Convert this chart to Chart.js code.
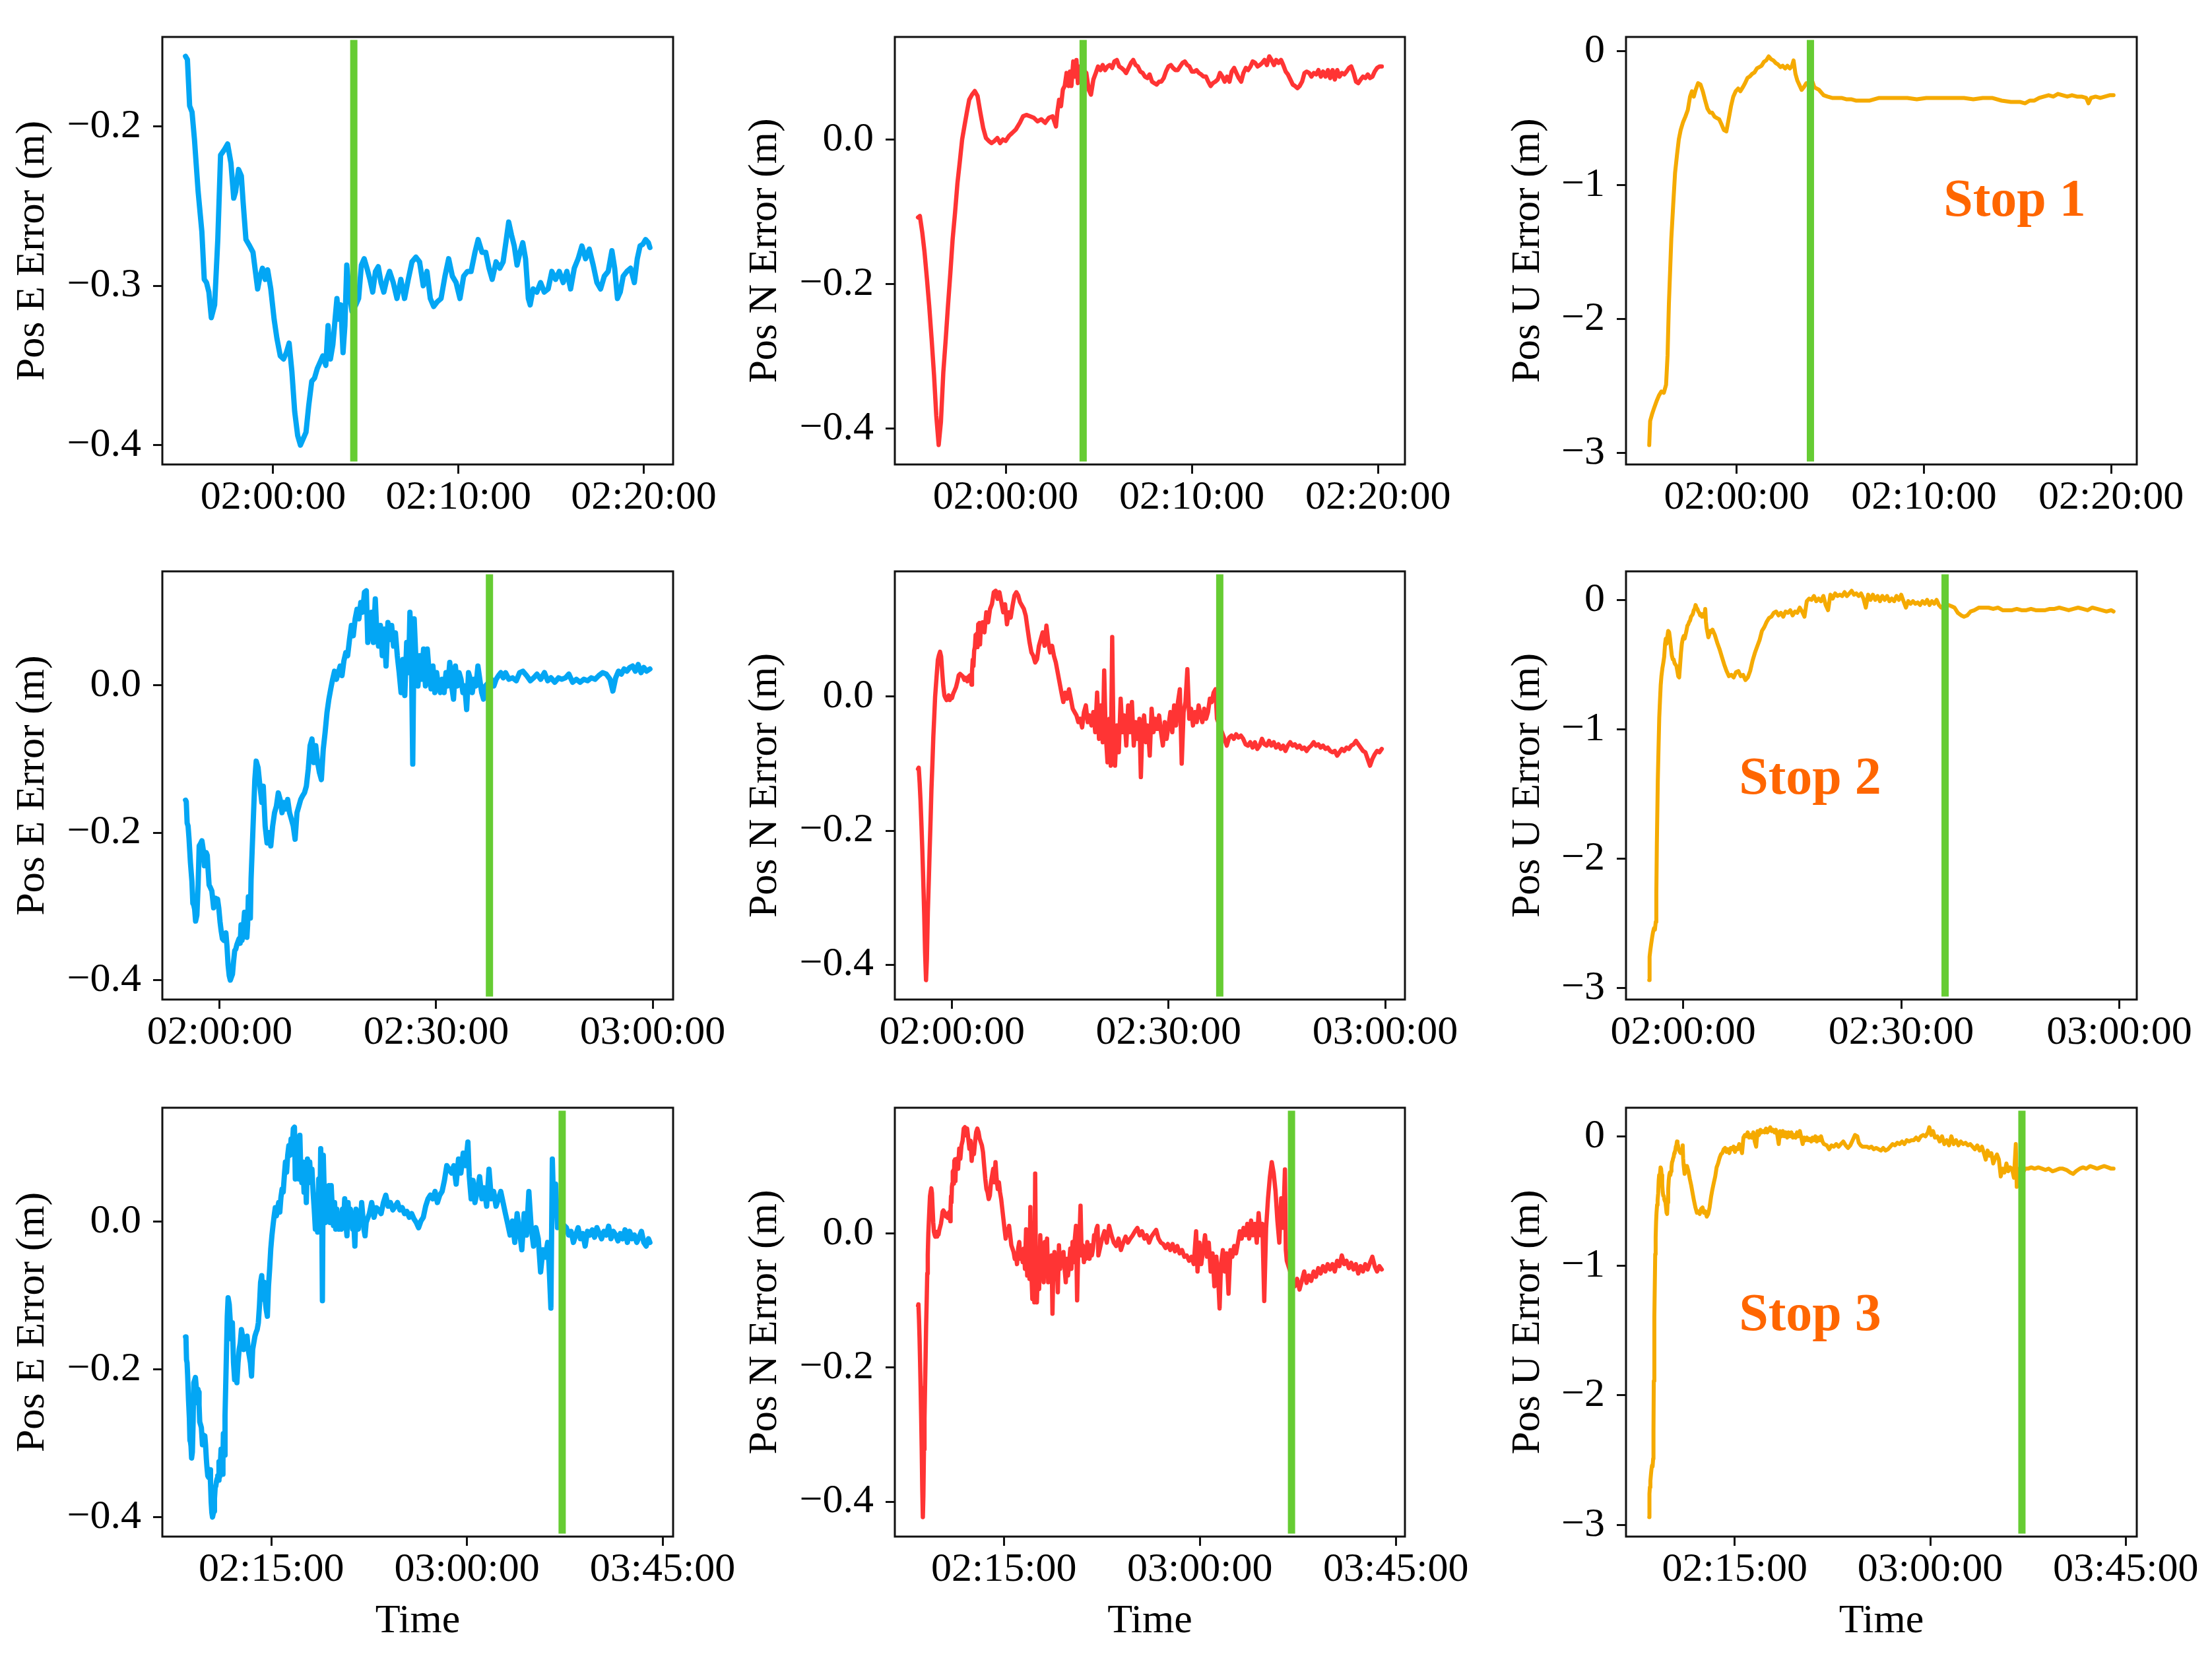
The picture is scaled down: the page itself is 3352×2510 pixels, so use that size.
<!DOCTYPE html>
<html>
<head>
<meta charset="utf-8">
<title>Position error with stops</title>
<script src="https://cdn.jsdelivr.net/npm/chart.js@4.4.1/dist/chart.umd.min.js"></script>
<style>
  html, body { margin: 0; padding: 0; background: #ffffff; }
  #page { position: relative; width: 3352px; height: 2510px; overflow: hidden; background: #ffffff; }
  #page canvas { position: absolute; }
  .stop-label {
    position: absolute;
    transform: translate(-50%, -50%);
    font-family: "Liberation Serif", "Times New Roman", serif;
    font-weight: bold;
    font-size: 80px;
    line-height: 1;
    color: #ff6600;
    white-space: nowrap;
  }
</style>
</head>
<body>
<div id="page"></div>
<script>
// time is in minutes after 00:00 (120 = 02:00:00), values in metres

// --- East error: common run before the stops, then the part after each stop ---
const eBase = [
  [115.27,-0.156],[115.37,-0.158],[115.49,-0.187],[115.62,-0.191],[115.75,-0.208],[115.95,-0.241],[116.15,-0.266],
  [116.28,-0.296],[116.4,-0.298],[116.53,-0.304],[116.66,-0.32],[116.84,-0.312],[117.01,-0.271],[117.16,-0.218],
  [117.34,-0.215],[117.54,-0.211],[117.72,-0.223],[117.87,-0.245],[117.97,-0.241],[118.13,-0.227],[118.28,-0.231],
  [118.38,-0.248],[118.53,-0.271],[118.73,-0.275],[118.91,-0.279],[119.04,-0.291],[119.16,-0.302],[119.29,-0.294],
  [119.42,-0.289],[119.57,-0.296],[119.7,-0.29],[119.87,-0.302],[120.05,-0.321],[120.2,-0.333],[120.38,-0.344],
  [120.56,-0.346],[120.71,-0.342],[120.86,-0.336],[121.01,-0.354],[121.16,-0.379],[121.32,-0.394],[121.47,-0.4],
  [121.62,-0.396],[121.77,-0.392],[121.92,-0.375],[122.08,-0.36],[122.23,-0.358],[122.38,-0.352],[122.53,-0.348],
  [122.68,-0.344],[122.84,-0.35],[122.96,-0.325],[123.09,-0.346],[123.22,-0.337],[123.34,-0.321],[123.44,-0.308],
  [123.54,-0.321],[123.65,-0.312],[123.77,-0.342],[123.87,-0.325],[123.97,-0.287],[124.1,-0.304],[124.25,-0.316],
  [124.35,-0.263],[124.61,-0.195],[124.87,-0.128],[125.06,-0.103],[125.32,-0.112],[125.58,-0.137],[125.84,-0.159],
  [126.04,-0.137],[126.3,-0.191],[126.56,-0.214],[126.82,-0.2],[127.08,-0.218],[127.34,-0.191],[127.6,-0.173],
  [127.86,-0.164],[128.12,-0.146],[128.38,-0.155],[128.64,-0.173],[128.9,-0.159],[129.16,-0.168],[129.42,-0.155],
  [129.68,-0.173],[129.94,-0.182],[130.19,-0.191],[130.45,-0.209],[130.71,-0.173],[130.97,-0.164],[131.23,-0.155],
  [131.49,-0.15],[131.75,-0.146],[132.01,-0.137],[132.27,-0.114],[132.53,-0.082],[132.79,-0.073],[133.05,-0.105],
  [133.31,-0.082],[133.57,-0.105],[133.83,-0.119],[134.09,-0.128],[134.35,-0.087],[134.61,-0.064],[134.87,-0.037],
  [135.13,-0.019],[135.39,-0.005],[135.65,0.008],[135.91,0.019],[136.17,0.008],[136.43,0.017],[136.69,0.026],
  [136.95,0.013],[137.21,0.033],[137.47,0.044],[137.73,0.04],[137.99,0.062],[138.25,0.081],[138.51,0.067],
  [138.77,0.09],[139.03,0.103],[139.29,0.09],[139.55,0.112],[139.81,0.099],[140.06,0.126],[140.32,0.128],
  [140.52,0.058],[140.78,0.081],[141.04,0.099],[141.3,0.058],[141.56,0.117],[141.75,0.076],[142.01,0.053],
  [142.27,0.081],[142.53,0.04],[142.79,0.076],[143.05,0.026],[143.31,0.085],[143.57,0.062],[143.83,0.081],
  [144.09,0.053],[144.35,0.071],[144.61,0.04],[144.87,0.017],[145.13,-0.01],[145.39,0.035],[145.65,-0.014],
  [145.91,0.058],[146.17,0.017],[146.36,0.099],[146.56,0.044],[146.75,-0.107],[146.95,0.09],[147.21,0.031],
  [147.47,-0.001],[147.73,0.04],[147.99,0.008],[148.25,0.049],[148.51,-0.001],[148.77,0.049],[149.03,0.017],
  [149.29,-0.005],[149.55,0.026],[149.81,-0.01],[150.06,0.017],[150.32,-0.001],[150.58,-0.01],[150.84,0.008],
  [151.1,-0.01],[151.36,0.017],[151.62,-0.001],[151.88,0.031],[152.14,-0.001],[152.4,-0.019],[152.66,0.026],
  [152.92,-0.001],[153.18,0.017],[153.44,0.008],[153.7,-0.01],[153.96,-0.001],[154.22,-0.033],[154.48,0.017],
  [154.74,0.008],[155.0,-0.01],[155.26,0.008],[155.52,-0.001],[155.78,0.026],[156.04,0.008],[156.3,-0.01],
  [156.56,-0.019],[156.82,-0.001],[157.55,0.011],[158.09,0.026],[158.63,0.006],[159.17,0.019],[159.71,0.016],
  [160.25,0.011],[160.79,0.026],[161.33,0.036],[161.87,0.021],[162.41,0.026],[162.95,0.016],[163.49,0.021],
  [164.03,0.026],[164.57,0.016],[165.11,0.019],[165.65,0.011],[166.19,0.014],[166.73,0.006],[167.27,0.011],
  [167.8,0.004],[168.34,-0.001],[168.88,-0.008],[169.42,0.001],[169.96,0.006],[170.5,0.021],[171.04,0.031],
  [171.58,0.036],[172.12,0.031],[172.66,0.041],[173.2,0.026],[173.74,0.036],[174.28,0.041],[174.82,0.056],
  [175.36,0.076],[175.9,0.071],[176.44,0.066],[176.98,0.076],[177.52,0.051],[178.06,0.085],[178.6,0.066],
  [179.14,0.093],[179.68,0.076],[180.22,0.108],[180.54,0.061],[180.97,0.031],[181.4,0.056],[181.83,0.026],
  [182.37,0.041],[182.91,0.061],[183.45,0.031],[183.99,0.046],[184.53,0.021],[185.07,0.071],[185.61,0.031],
  [186.15,0.041],[186.69,0.021],[187.23,0.031],[187.77,0.041],[188.31,0.026],[188.85,0.011],[189.38,-0.003],
  [189.92,-0.018],[190.46,0.001],[191.0,-0.028],[191.54,0.011],[192.08,-0.013],[192.62,-0.038],[193.16,0.011],
  [193.7,-0.018],[194.24,0.041],[194.78,-0.008],[195.32,-0.033],[195.86,-0.008],[196.4,-0.023],[196.94,-0.068],
  [197.48,-0.038],[198.02,-0.048],[198.56,-0.028],[198.88,-0.058],[199.31,-0.117],[199.64,0.085],[199.96,0.016],
  [200.39,0.051],[200.83,-0.008],[201.26,0.001]
];
const eAfter1 = [
  [124.46,-0.312],[124.61,-0.308],[124.76,-0.287],[124.91,-0.283],[125.06,-0.289],[125.22,-0.296],[125.37,-0.304],
  [125.52,-0.291],[125.67,-0.288],[125.82,-0.298],[125.97,-0.304],[126.13,-0.296],[126.28,-0.291],[126.48,-0.298],
  [126.68,-0.308],[126.89,-0.296],[127.09,-0.308],[127.29,-0.296],[127.49,-0.285],[127.7,-0.282],[127.9,-0.285],
  [128.1,-0.3],[128.3,-0.291],[128.48,-0.308],[128.66,-0.313],[128.86,-0.31],[129.06,-0.308],[129.27,-0.294],
  [129.47,-0.283],[129.67,-0.294],[129.87,-0.298],[130.08,-0.308],[130.28,-0.294],[130.48,-0.291],[130.68,-0.291],
  [130.89,-0.279],[131.06,-0.271],[131.27,-0.279],[131.47,-0.279],[131.65,-0.289],[131.82,-0.296],[132.03,-0.285],
  [132.23,-0.289],[132.41,-0.285],[132.58,-0.271],[132.71,-0.26],[132.86,-0.268],[133.01,-0.275],[133.16,-0.287],
  [133.32,-0.279],[133.47,-0.273],[133.62,-0.283],[133.77,-0.308],[133.87,-0.312],[134.03,-0.302],[134.23,-0.304],
  [134.43,-0.298],[134.63,-0.304],[134.84,-0.302],[135.04,-0.291],[135.24,-0.296],[135.44,-0.291],[135.65,-0.298],
  [135.85,-0.291],[136.05,-0.302],[136.25,-0.289],[136.46,-0.283],[136.66,-0.275],[136.86,-0.283],[137.06,-0.277],
  [137.27,-0.287],[137.47,-0.298],[137.67,-0.302],[137.87,-0.294],[138.08,-0.291],[138.28,-0.278],[138.43,-0.289],
  [138.58,-0.308],[138.73,-0.304],[138.89,-0.294],[139.09,-0.291],[139.29,-0.289],[139.49,-0.298],[139.65,-0.283],
  [139.8,-0.275],[139.95,-0.274],[140.1,-0.271],[140.25,-0.273],[140.33,-0.276]
];
const eAfter2 = [
  [157.66,0.008],[157.99,-0.001],[158.31,0.008],[158.64,0.013],[158.96,0.017],[159.29,0.01],[159.61,0.017],
  [160.06,0.008],[160.58,0.01],[161.1,0.006],[161.56,0.017],[162.01,0.019],[162.53,0.013],[163.05,0.006],
  [163.51,0.01],[163.96,0.015],[164.48,0.008],[165.0,0.017],[165.45,0.006],[165.91,0.01],[166.43,0.004],
  [166.95,0.01],[167.4,0.008],[167.92,0.01],[168.38,0.015],[168.9,0.004],[169.42,0.008],[169.94,0.004],
  [170.45,0.008],[170.97,0.006],[171.49,0.01],[172.01,0.008],[172.53,0.013],[173.05,0.017],[173.57,0.015],
  [174.09,0.008],[174.48,-0.008],[174.87,0.01],[175.26,0.019],[175.65,0.015],[176.04,0.022],[176.43,0.019],
  [176.82,0.024],[177.21,0.026],[177.6,0.019],[177.99,0.028],[178.38,0.017],[178.77,0.024],[179.16,0.019],
  [179.61,0.022]
];
const eAfter3 = [
  [202.87,-0.008],[203.41,-0.018],[203.95,-0.013],[204.49,-0.028],[205.03,-0.018],[205.57,-0.008],[206.11,-0.023],
  [206.65,-0.016],[207.19,-0.033],[207.73,-0.013],[208.27,-0.018],[208.81,-0.011],[209.35,-0.021],[209.89,-0.008],
  [210.43,-0.016],[210.97,-0.023],[211.51,-0.013],[212.05,-0.018],[212.59,-0.006],[213.13,-0.023],[213.67,-0.013],
  [214.2,-0.018],[214.74,-0.026],[215.28,-0.016],[215.82,-0.023],[216.36,-0.011],[216.9,-0.028],[217.44,-0.013],
  [217.98,-0.023],[218.52,-0.018],[219.06,-0.028],[219.6,-0.021],[220.14,-0.013],[220.68,-0.028],[221.22,-0.033],
  [221.76,-0.023],[222.08,-0.028]
];

// --- North error ---
const nBase = [
  [115.29,-0.108],[115.39,-0.106],[115.52,-0.129],[115.64,-0.156],[115.77,-0.193],[115.89,-0.23],[116.02,-0.276],
  [116.15,-0.326],[116.27,-0.382],[116.4,-0.423],[116.52,-0.391],[116.65,-0.322],[116.78,-0.276],[116.9,-0.23],
  [117.03,-0.184],[117.15,-0.138],[117.28,-0.101],[117.41,-0.06],[117.53,-0.032],[117.66,0.0],[117.78,0.018],
  [117.91,0.037],[118.04,0.055],[118.19,0.062],[118.34,0.067],[118.49,0.06],[118.64,0.037],[118.79,0.016],
  [118.94,0.002],[119.09,-0.002],[119.24,-0.005],[119.4,-0.002],[119.55,0.002],[119.7,-0.005],[119.85,0.0],
  [120.0,-0.002],[120.18,0.005],[120.35,0.009],[120.55,0.014],[120.76,0.023],[120.93,0.032],[121.11,0.034],
  [121.31,0.032],[121.51,0.03],[121.71,0.025],[121.91,0.028],[122.12,0.023],[122.32,0.03],[122.52,0.032],
  [122.7,0.018],[122.77,0.037],[122.87,0.055],[122.97,0.046],[123.07,0.069],[123.17,0.074],[123.27,0.092],
  [123.38,0.074],[123.45,0.094],[123.53,0.074],[123.63,0.108],[123.73,0.087],[123.8,0.11],[123.88,0.078],
  [123.98,0.101],[124.23,0.111],[124.49,0.096],[124.75,0.126],[125.01,0.111],[125.27,0.131],[125.53,0.138],
  [125.79,0.156],[126.05,0.158],[126.31,0.146],[126.57,0.156],[126.83,0.141],[127.09,0.126],[127.35,0.138],
  [127.61,0.108],[127.87,0.126],[128.13,0.118],[128.39,0.136],[128.65,0.151],[128.91,0.156],[129.17,0.151],
  [129.43,0.141],[129.69,0.136],[129.95,0.131],[130.21,0.121],[130.47,0.101],[130.74,0.081],[131.0,0.066],
  [131.26,0.061],[131.52,0.051],[131.78,0.056],[132.04,0.076],[132.3,0.086],[132.56,0.096],[132.82,0.076],
  [133.08,0.106],[133.34,0.081],[133.6,0.066],[133.86,0.076],[134.12,0.061],[134.38,0.051],[134.64,0.036],
  [134.9,0.021],[135.16,0.006],[135.42,-0.008],[135.68,0.006],[135.94,-0.003],[136.2,0.011],[136.46,-0.003],
  [136.72,-0.018],[136.98,-0.023],[137.24,-0.028],[137.5,-0.038],[137.76,-0.033],[138.02,-0.046],[138.28,-0.023],
  [138.54,-0.013],[138.8,-0.038],[139.06,-0.028],[139.32,-0.043],[139.58,-0.023],[139.84,-0.053],[140.1,0.006],
  [140.36,-0.063],[140.62,-0.013],[140.88,-0.068],[141.08,0.039],[141.28,-0.053],[141.54,-0.098],[141.8,-0.033],
  [141.99,-0.103],[142.19,0.089],[142.38,-0.073],[142.58,-0.103],[142.84,-0.043],[143.1,-0.083],[143.36,-0.003],
  [143.62,-0.053],[143.88,-0.028],[144.14,-0.073],[144.4,-0.013],[144.66,-0.053],[144.92,-0.008],[145.18,-0.073],
  [145.44,-0.038],[145.7,-0.063],[145.96,-0.033],[146.16,-0.12],[146.35,-0.053],[146.61,-0.028],[146.87,-0.068],
  [147.13,-0.043],[147.39,-0.088],[147.65,-0.018],[147.91,-0.053],[148.17,-0.033],[148.43,-0.048],[148.69,-0.028],
  [148.95,-0.053],[149.21,-0.073],[149.47,-0.038],[149.73,-0.063],[149.99,-0.043],[150.25,-0.023],[150.51,-0.053],
  [150.77,-0.013],[151.04,-0.043],[151.3,-0.008],[151.56,0.011],[151.82,-0.1],[152.08,-0.023],[152.34,-0.008],
  [152.6,0.041],[152.86,-0.033],[153.12,-0.018],[153.38,-0.043],[153.64,-0.023],[153.9,-0.038],[154.16,-0.013],
  [154.42,-0.028],[154.68,-0.038],[154.94,-0.018],[155.2,-0.033],[155.46,-0.023],[155.72,-0.003],[155.98,-0.008],
  [156.24,0.006],[156.5,0.011],[156.7,-0.033],[157.55,-0.008],[158.09,0.003],[158.63,-0.014],[159.17,0.011],
  [159.71,-0.003],[160.25,-0.014],[160.79,-0.019],[161.33,-0.008],[161.87,-0.025],[162.41,-0.014],[162.95,-0.005],
  [163.49,-0.014],[164.03,-0.008],[164.57,-0.003],[165.11,0.003],[165.65,0.008],[166.19,-0.003],[166.73,0.003],
  [167.27,-0.008],[167.8,-0.003],[168.34,-0.014],[168.88,-0.005],[169.42,0.0],[169.96,0.005],[170.5,-0.008],
  [171.04,-0.014],[171.58,-0.016],[172.12,-0.022],[172.66,-0.016],[173.2,-0.025],[173.74,-0.016],[174.28,-0.027],
  [174.82,-0.019],[175.36,-0.03],[175.9,-0.025],[176.44,-0.035],[176.98,-0.033],[177.52,-0.041],[178.06,-0.035],
  [178.6,-0.046],[179.14,0.003],[179.46,-0.057],[179.89,-0.014],[180.32,-0.046],[180.75,-0.025],[181.19,-0.003],
  [181.62,-0.035],[182.05,-0.014],[182.48,-0.057],[182.91,-0.03],[183.34,-0.079],[183.78,-0.035],[184.21,-0.068],
  [184.53,-0.112],[184.85,-0.046],[185.29,-0.025],[185.72,-0.057],[186.15,-0.03],[186.58,-0.09],[187.02,-0.025],
  [187.45,-0.035],[187.88,-0.019],[188.31,-0.03],[188.74,-0.014],[189.17,0.003],[189.6,-0.008],[190.03,0.008],
  [190.47,-0.003],[190.9,0.014],[191.33,-0.008],[191.76,0.019],[192.19,-0.003],[192.62,0.014],[193.06,-0.014],
  [193.49,0.03],[193.92,-0.003],[194.35,0.014],[194.78,-0.101],[195.21,0.008],[195.65,0.052],[196.08,0.084],
  [196.51,0.106],[196.94,0.09],[197.37,0.063],[197.8,0.019],[198.24,-0.014],[198.67,0.052],[199.1,0.008],
  [199.53,0.095],[199.74,-0.025],[199.96,-0.041]
];
const nAfter1 = [
  [124.33,0.092],[124.46,0.069],[124.58,0.062],[124.71,0.083],[124.84,0.092],[124.96,0.101],[125.09,0.096],
  [125.21,0.103],[125.34,0.096],[125.47,0.101],[125.59,0.103],[125.72,0.099],[125.84,0.108],[125.97,0.11],
  [126.1,0.101],[126.22,0.099],[126.35,0.096],[126.47,0.092],[126.6,0.099],[126.73,0.106],[126.85,0.11],
  [126.98,0.103],[127.1,0.101],[127.23,0.094],[127.36,0.092],[127.48,0.087],[127.61,0.085],[127.73,0.09],
  [127.86,0.08],[127.98,0.078],[128.11,0.076],[128.24,0.08],[128.36,0.08],[128.49,0.085],[128.61,0.094],
  [128.74,0.101],[128.87,0.103],[128.99,0.099],[129.12,0.096],[129.24,0.096],[129.37,0.101],[129.5,0.106],
  [129.62,0.108],[129.75,0.103],[129.87,0.101],[130.0,0.094],[130.13,0.094],[130.25,0.096],[130.38,0.092],
  [130.5,0.09],[130.63,0.087],[130.76,0.087],[130.88,0.08],[131.01,0.074],[131.13,0.078],[131.26,0.08],
  [131.39,0.083],[131.51,0.092],[131.64,0.087],[131.76,0.08],[131.89,0.087],[132.02,0.08],[132.14,0.094],
  [132.27,0.099],[132.39,0.092],[132.52,0.085],[132.65,0.08],[132.77,0.092],[132.9,0.099],[133.02,0.096],
  [133.15,0.101],[133.27,0.108],[133.4,0.106],[133.53,0.101],[133.65,0.103],[133.78,0.106],[133.9,0.11],
  [134.03,0.103],[134.16,0.115],[134.28,0.11],[134.41,0.103],[134.53,0.11],[134.66,0.106],[134.79,0.11],
  [134.91,0.103],[135.04,0.094],[135.16,0.09],[135.29,0.083],[135.42,0.076],[135.54,0.074],[135.67,0.071],
  [135.79,0.074],[135.92,0.08],[136.05,0.092],[136.17,0.094],[136.3,0.092],[136.42,0.087],[136.55,0.092],
  [136.68,0.09],[136.8,0.096],[136.93,0.087],[137.05,0.094],[137.18,0.087],[137.31,0.096],[137.43,0.085],
  [137.56,0.096],[137.68,0.083],[137.81,0.096],[137.93,0.087],[138.06,0.092],[138.19,0.09],[138.31,0.094],
  [138.44,0.099],[138.56,0.101],[138.69,0.092],[138.82,0.08],[138.94,0.078],[139.07,0.083],[139.19,0.087],
  [139.32,0.085],[139.45,0.09],[139.57,0.085],[139.7,0.087],[139.82,0.094],[139.95,0.099],[140.08,0.101],
  [140.2,0.101]
];
const nAfter2 = [
  [157.74,-0.063],[158.06,-0.073],[158.39,-0.061],[158.71,-0.058],[159.04,-0.063],[159.36,-0.056],[159.69,-0.061],
  [160.01,-0.058],[160.34,-0.063],[160.66,-0.071],[160.99,-0.073],[161.31,-0.068],[161.64,-0.076],[161.96,-0.068],
  [162.29,-0.078],[162.61,-0.073],[162.94,-0.063],[163.27,-0.071],[163.59,-0.073],[163.92,-0.066],[164.24,-0.073],
  [164.57,-0.068],[164.89,-0.076],[165.22,-0.071],[165.54,-0.078],[165.87,-0.073],[166.19,-0.081],[166.52,-0.073],
  [166.84,-0.068],[167.17,-0.073],[167.5,-0.071],[167.82,-0.076],[168.15,-0.073],[168.47,-0.078],[168.8,-0.076],
  [169.12,-0.081],[169.45,-0.076],[169.77,-0.073],[170.1,-0.068],[170.42,-0.073],[170.75,-0.071],[171.07,-0.076],
  [171.4,-0.073],[171.73,-0.078],[172.05,-0.076],[172.38,-0.081],[172.7,-0.083],[173.03,-0.081],[173.35,-0.088],
  [173.68,-0.083],[174.0,-0.078],[174.33,-0.081],[174.65,-0.076],[174.98,-0.078],[175.3,-0.073],[175.63,-0.071],
  [175.96,-0.066],[176.28,-0.071],[176.61,-0.076],[176.93,-0.081],[177.26,-0.083],[177.58,-0.093],[177.91,-0.103],
  [178.23,-0.093],[178.56,-0.086],[178.88,-0.081],[179.21,-0.083],[179.53,-0.078]
];
const nAfter3 = [
  [201.8,-0.079],[202.33,-0.068],[202.87,-0.084],[203.41,-0.071],[203.95,-0.057],[204.49,-0.074],[205.03,-0.063],
  [205.57,-0.071],[206.11,-0.057],[206.65,-0.065],[207.19,-0.052],[207.73,-0.06],[208.27,-0.049],[208.81,-0.057],
  [209.35,-0.046],[209.89,-0.054],[210.43,-0.046],[210.97,-0.057],[211.51,-0.041],[212.05,-0.049],[212.59,-0.033],
  [213.13,-0.046],[213.67,-0.041],[214.21,-0.052],[214.75,-0.044],[215.28,-0.054],[215.82,-0.046],[216.36,-0.06],
  [216.9,-0.049],[217.44,-0.057],[217.98,-0.046],[218.52,-0.054],[219.06,-0.044],[219.6,-0.035],[220.14,-0.049],
  [220.68,-0.057],[221.22,-0.049],[221.76,-0.054]
];

// --- Up error ---
const uBase = [
  [115.33,-2.94],[115.38,-2.76],[115.48,-2.71],[115.6,-2.66],[115.73,-2.61],[115.85,-2.57],[115.98,-2.54],
  [116.11,-2.55],[116.23,-2.49],[116.31,-2.27],[116.38,-1.89],[116.51,-1.4],[116.61,-1.15],[116.71,-0.91],
  [116.81,-0.78],[116.91,-0.66],[117.01,-0.59],[117.14,-0.53],[117.26,-0.49],[117.39,-0.44],[117.51,-0.34],
  [117.61,-0.3],[117.71,-0.34],[117.81,-0.29],[117.94,-0.24],[118.07,-0.25],[118.19,-0.3],[118.32,-0.37],
  [118.44,-0.43],[118.57,-0.46],[118.69,-0.46],[118.82,-0.49],[118.94,-0.5],[119.07,-0.51],[119.2,-0.55],
  [119.32,-0.59],[119.45,-0.6],[119.57,-0.51],[119.7,-0.41],[119.82,-0.34],[119.95,-0.3],[120.08,-0.28],
  [120.2,-0.3],[120.33,-0.27],[120.45,-0.24],[120.58,-0.2],[120.7,-0.19],[120.83,-0.17],[120.95,-0.16],
  [121.08,-0.13],[121.21,-0.12],[121.33,-0.11],[121.46,-0.08],[121.58,-0.07],[121.71,-0.04],[121.83,-0.06],
  [121.96,-0.07],[122.09,-0.09],[122.21,-0.1],[122.34,-0.12],[122.46,-0.11],[122.59,-0.13],[122.71,-0.11],
  [122.84,-0.13],[122.96,-0.11],[123.04,-0.07],[123.14,-0.17],[123.24,-0.22],[123.34,-0.25],[123.47,-0.29],
  [123.59,-0.27],[123.72,-0.24],[123.84,-0.25],[124.03,-0.23],[124.35,-0.27],[124.68,-0.33],[125.0,-0.38],
  [125.32,-0.44],[125.65,-0.5],[125.97,-0.55],[126.3,-0.59],[126.62,-0.58],[126.95,-0.6],[127.27,-0.56],
  [127.6,-0.55],[127.92,-0.59],[128.25,-0.58],[128.57,-0.62],[128.9,-0.6],[129.22,-0.55],[129.55,-0.47],
  [129.87,-0.41],[130.19,-0.36],[130.52,-0.31],[130.84,-0.24],[131.17,-0.21],[131.49,-0.17],[131.82,-0.14],
  [132.14,-0.13],[132.47,-0.1],[132.79,-0.09],[133.12,-0.12],[133.44,-0.1],[133.77,-0.13],[134.09,-0.09],
  [134.42,-0.1],[134.74,-0.08],[135.06,-0.12],[135.39,-0.09],[135.71,-0.1],[136.04,-0.06],[136.36,-0.09],
  [136.69,-0.13],[137.01,-0.01],[137.34,0.01],[137.66,0.0],[137.99,0.03],[138.31,-0.01],[138.64,0.01],
  [138.96,-0.01],[139.29,0.03],[139.61,-0.04],[139.94,-0.08],[140.26,0.04],[140.58,0.01],[140.91,0.05],
  [141.23,0.03],[141.56,0.04],[141.88,0.03],[142.21,0.06],[142.53,0.03],[142.86,0.05],[143.18,0.07],
  [143.51,0.04],[143.83,0.05],[144.16,0.03],[144.48,0.05],[144.81,0.01],[145.13,-0.06],[145.45,0.04],
  [145.78,0.0],[146.1,0.04],[146.43,0.0],[146.75,0.03],[147.08,-0.01],[147.4,0.03],[147.73,0.0],
  [148.05,0.03],[148.38,-0.01],[148.7,0.01],[149.03,-0.01],[149.35,0.03],[149.68,0.0],[150.0,0.04],
  [150.32,-0.01],[150.65,-0.06],[150.97,-0.01],[151.3,-0.03],[151.62,-0.01],[151.95,-0.03],[152.27,-0.02],
  [152.6,-0.04],[152.92,-0.01],[153.25,-0.03],[153.57,0.0],[153.9,-0.04],[154.22,-0.01],[154.55,-0.03],
  [154.87,0.0],[155.19,-0.04],[155.52,-0.06],[156.2,-0.07],[156.74,-0.1],[157.28,-0.07],[157.83,-0.08],
  [158.37,-0.06],[158.91,-0.08],[159.45,-0.06],[159.99,-0.04],[160.53,-0.07],[161.07,-0.09],[161.61,-0.07],
  [162.15,-0.03],[162.69,0.01],[163.23,0.0],[163.56,-0.05],[163.99,-0.07],[164.42,-0.08],[164.86,-0.08],
  [165.4,-0.08],[165.94,-0.09],[166.48,-0.08],[167.02,-0.1],[167.56,-0.09],[168.1,-0.1],[168.64,-0.11],
  [169.18,-0.09],[169.72,-0.11],[170.27,-0.1],[170.81,-0.08],[171.35,-0.06],[171.89,-0.07],[172.43,-0.05],
  [172.97,-0.06],[173.51,-0.04],[174.05,-0.06],[174.59,-0.03],[175.13,-0.04],[175.67,-0.03],[176.21,-0.03],
  [176.75,-0.01],[177.29,-0.03],[177.84,0.0],[178.38,0.01],[178.92,0.0],[179.46,0.03],[179.79,0.07],
  [180.22,0.01],[180.65,0.04],[181.08,-0.01],[181.62,0.0],[182.17,-0.04],[182.71,0.0],[183.25,-0.06],
  [183.79,-0.03],[184.33,-0.07],[184.87,0.0],[185.41,-0.06],[185.95,-0.03],[186.49,-0.07],[187.03,-0.04],
  [187.57,-0.06],[188.12,-0.05],[188.66,-0.07],[189.2,-0.06],[189.74,-0.08],[190.28,-0.1],[190.82,-0.07],
  [191.36,-0.11],[191.9,-0.08],[192.44,-0.14],[192.77,-0.18],[193.2,-0.11],[193.63,-0.15],[194.07,-0.13],
  [194.5,-0.21],[194.93,-0.17],[195.36,-0.14],[195.8,-0.18],[196.23,-0.31],[196.66,-0.25],[197.09,-0.28],
  [197.53,-0.21],[197.96,-0.27],[198.39,-0.24],[198.82,-0.25],[199.26,-0.32],[199.69,-0.06],[199.91,-0.39],
  [200.12,-0.25],[200.34,-0.34]
];
const uAfter1 = [
  [124.05,-0.23],[124.15,-0.27],[124.27,-0.28],[124.4,-0.29],[124.52,-0.31],[124.65,-0.33],[124.85,-0.34],
  [125.1,-0.35],[125.35,-0.35],[125.6,-0.35],[125.85,-0.36],[126.11,-0.36],[126.36,-0.37],[126.61,-0.37],
  [126.86,-0.37],[127.11,-0.37],[127.36,-0.36],[127.61,-0.35],[127.86,-0.35],[128.12,-0.35],[128.37,-0.35],
  [128.62,-0.35],[129.12,-0.35],[129.62,-0.36],[130.13,-0.35],[130.63,-0.35],[131.13,-0.35],[131.63,-0.35],
  [132.14,-0.35],[132.64,-0.36],[133.14,-0.35],[133.64,-0.35],[134.15,-0.37],[134.65,-0.38],[135.15,-0.38],
  [135.4,-0.39],[135.65,-0.37],[135.9,-0.37],[136.16,-0.35],[136.41,-0.34],[136.66,-0.33],[136.91,-0.34],
  [137.16,-0.32],[137.41,-0.33],[137.66,-0.34],[137.91,-0.33],[138.17,-0.34],[138.42,-0.34],[138.67,-0.35],
  [138.79,-0.39],[138.92,-0.35],[139.17,-0.34],[139.42,-0.35],[139.67,-0.34],[139.92,-0.33],[140.13,-0.33]
];
const uAfter2 = [
  [156.49,-0.04],[156.95,-0.05],[157.34,-0.06],[157.79,-0.1],[158.25,-0.12],[158.64,-0.13],[159.09,-0.12],
  [159.55,-0.09],[160.06,-0.08],[160.71,-0.06],[161.36,-0.06],[162.01,-0.06],[162.66,-0.07],[163.31,-0.06],
  [163.96,-0.08],[164.61,-0.08],[165.26,-0.08],[165.91,-0.07],[166.56,-0.08],[167.21,-0.08],[167.86,-0.07],
  [168.51,-0.08],[169.16,-0.08],[169.81,-0.08],[170.45,-0.07],[171.1,-0.07],[171.75,-0.06],[172.4,-0.07],
  [173.05,-0.08],[173.7,-0.07],[174.35,-0.06],[175.0,-0.07],[175.65,-0.08],[176.3,-0.06],[176.95,-0.07],
  [177.6,-0.08],[178.25,-0.09],[178.9,-0.08],[179.22,-0.09]
];
const uAfter3 = [
  [201.85,-0.25],[202.5,-0.25],[203.26,-0.24],[204.02,-0.25],[204.88,-0.24],[205.75,-0.25],[206.51,-0.26],
  [207.26,-0.25],[208.13,-0.27],[209.0,-0.26],[209.75,-0.25],[210.51,-0.25],[211.37,-0.26],[212.24,-0.28],
  [212.89,-0.29],[213.54,-0.27],[214.4,-0.25],[215.16,-0.24],[215.92,-0.25],[216.78,-0.23],[217.65,-0.24],
  [218.4,-0.25],[219.16,-0.24],[220.03,-0.23],[220.89,-0.24],[221.65,-0.25],[222.19,-0.25]
];

// stop instants (green lines), rows = stop 1..3, columns = E, N, U
const stopTimes = [
  [124.35, 124.16, 123.94],
  [157.38, 157.09, 156.04],
  [201.9, 201.04, 201.1]
];
const stopNames = ['Stop 1', 'Stop 2', 'Stop 3'];

// tick values
const xTicks = [[120, 130, 140], [120, 150, 180], [135, 180, 225]];
const yTicksE = [[-0.4, -0.3, -0.2], [-0.4, -0.2, 0], [-0.4, -0.2, 0]];
const yTicksN = [-0.4, -0.2, 0];
const yTicksU = [-3, -2, -1, 0];

const yTitles = ['Pos E Error (m)', 'Pos N Error (m)', 'Pos U Error (m)'];
const lineColors = ['#03a6f4', '#ff3434', '#f5aa00'];
const lineWidths = [8, 6.5, 6];
const GREEN = '#66cc33';

// panel boxes on the page (pixels)
const colLeft = [246, 1356, 2464];
const colRight = [1020, 2129, 3238];
const rowTop = [47, 857, 1670];
const rowBottom = [704, 1515, 2329];
const yAxisW = 246, xAxisH = 180, padTop = 40, padRight = 140;
const yTitlePad = [19, 19, 67];
const stopLabelPos = [[3053, 300], [2743, 1176], [2743, 1989]];

const FONT_FAMILY = '"Liberation Serif", "Times New Roman", Times, serif';
const tickFont = { family: FONT_FAMILY, size: 62, lineHeight: 1 };

function two(n) { return (n < 10 ? '0' : '') + n; }
function hms(m) {
  const total = Math.round(m * 60);
  return two(Math.floor(total / 3600)) + ':' + two(Math.floor(total / 60) % 60) + ':' + two(total % 60);
}
function fmtY(v, dec) {
  const s = Math.abs(v).toFixed(dec);
  return (v < -1e-9 ? '\u2212' : '') + s;
}
function rowSeries(base, after, cut) {
  return base.filter(p => p[0] < cut).concat(after).map(p => ({ x: p[0], y: p[1] }));
}
function paddedRange(vals) {
  const lo = Math.min(...vals), hi = Math.max(...vals);
  const d = (hi - lo) * 0.05;
  return [lo - d, hi + d];
}

// draws the box round the plot area, like matplotlib spines
const framePlugin = {
  id: 'frame',
  afterDraw(chart) {
    const { ctx, chartArea: a } = chart;
    ctx.save();
    ctx.strokeStyle = '#111111';
    ctx.lineWidth = 3;
    ctx.strokeRect(a.left, a.top, a.right - a.left, a.bottom - a.top);
    ctx.restore();
  }
};

const page = document.getElementById('page');
const bases = [eBase, nBase, uBase];
const afters = [[eAfter1, eAfter2, eAfter3], [nAfter1, nAfter2, nAfter3], [uAfter1, uAfter2, uAfter3]];

for (let row = 0; row < 3; row++) {
  for (let col = 0; col < 3; col++) {
    const stop = stopTimes[row][col];
    const series = rowSeries(bases[col], afters[col][row], stop);
    const [xMin, xMax] = paddedRange(series.map(p => p.x));
    const [yMin, yMax] = paddedRange(series.map(p => p.y));
    const ySpan = yMax - yMin;
    const yTicks = col === 0 ? yTicksE[row] : (col === 1 ? yTicksN : yTicksU);
    const dec = col === 2 ? 0 : 1;

    const boxW = colRight[col] - colLeft[col];
    const boxH = rowBottom[row] - rowTop[row];
    const canvas = document.createElement('canvas');
    const cw = yAxisW + boxW + padRight, ch = padTop + boxH + xAxisH;
    canvas.width = cw; canvas.height = ch;
    canvas.style.width = cw + 'px'; canvas.style.height = ch + 'px';
    canvas.style.left = (colLeft[col] - yAxisW) + 'px';
    canvas.style.top = (rowTop[row] - padTop) + 'px';
    page.appendChild(canvas);

    const gridOpts = {
      display: true, drawOnChartArea: false, drawTicks: true,
      tickLength: 14, tickWidth: 3, tickColor: '#111111'
    };

    new Chart(canvas, {
      type: 'line',
      data: {
        datasets: [
          {
            data: [{ x: stop, y: yMin + 0.007 * ySpan }, { x: stop, y: yMax - 0.007 * ySpan }],
            borderColor: GREEN, borderWidth: 11, pointRadius: 0, borderCapStyle: 'butt'
          },
          {
            data: series,
            borderColor: lineColors[col], borderWidth: lineWidths[col],
            pointRadius: 0, tension: 0, borderJoinStyle: 'round', borderCapStyle: 'round'
          }
        ]
      },
      options: {
        responsive: false,
        animation: false,
        devicePixelRatio: 1,
        layout: { padding: { left: 0, top: padTop, right: padRight, bottom: 0 } },
        plugins: { legend: { display: false }, tooltip: { enabled: false } },
        scales: {
          x: {
            type: 'linear', min: xMin, max: xMax,
            afterBuildTicks: s => { s.ticks = xTicks[row].map(v => ({ value: v })); },
            afterFit: s => { s.height = xAxisH; },
            ticks: {
              callback: v => hms(v), font: tickFont, color: '#000000',
              padding: 6, maxRotation: 0, autoSkip: false
            },
            grid: gridOpts,
            border: { display: false },
            title: {
              display: row === 2, text: 'Time', color: '#000000',
              font: tickFont, padding: { top: 0, bottom: 20 }
            }
          },
          y: {
            type: 'linear', min: yMin, max: yMax,
            afterBuildTicks: s => { s.ticks = yTicks.map(v => ({ value: v })); },
            afterFit: s => { s.width = yAxisW; },
            ticks: { callback: v => fmtY(v, dec), font: tickFont, color: '#000000', padding: 18 },
            grid: gridOpts,
            border: { display: false },
            title: {
              display: true, text: yTitles[col], color: '#000000',
              font: tickFont, padding: { top: yTitlePad[col], bottom: 0 }
            }
          }
        }
      },
      plugins: [framePlugin]
    });
  }
}

// "Stop n" notes in the U panels
stopNames.forEach((name, i) => {
  const div = document.createElement('div');
  div.className = 'stop-label';
  div.textContent = name;
  div.style.left = stopLabelPos[i][0] + 'px';
  div.style.top = stopLabelPos[i][1] + 'px';
  page.appendChild(div);
});
</script>
</body>
</html>
